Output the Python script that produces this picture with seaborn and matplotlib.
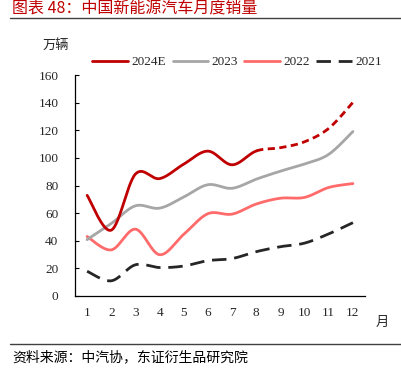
import numpy as np
import pandas as pd
import matplotlib
matplotlib.use("Agg")
import matplotlib.pyplot as plt
import seaborn as sns

months = list(range(1, 13))
sales_2024e = [72.9, 47.7, 88.3, 85.0, 95.5, 104.9, 95.0, 105.0, 107.4, 111.7, 121.4, 140.2]
sales_2023 = [40.8, 52.5, 65.3, 63.6, 71.7, 80.6, 78.0, 84.6, 90.4, 95.6, 102.6, 119.1]
sales_2022 = [43.1, 33.4, 48.4, 29.9, 44.7, 59.6, 59.3, 66.6, 70.8, 71.4, 78.6, 81.4]
sales_2021 = [17.9, 11.0, 22.6, 20.6, 21.7, 25.6, 27.1, 32.1, 35.7, 38.3, 45.0, 53.1]
forecast_from = 8

sns.set_style("white")
plt.rcParams['font.family'] = ['Liberation Serif', 'Noto Sans CJK SC']
cjk = ['Noto Sans CJK SC', 'DejaVu Sans']


# excel style smoothed line (catmull-rom bezier), only used for drawing
def smooth(x, y, n=30):
    x = np.asarray(x, float)
    y = np.asarray(y, float)
    px = np.r_[x[0], x, x[-1]]
    py = np.r_[y[0], y, y[-1]]
    xs, ys = [], []
    for i in range(1, len(px) - 2):
        t = np.linspace(0, 1, n, endpoint=False)
        p0, p1, p2, p3 = (np.array([px[j], py[j]]) for j in range(i - 1, i + 3))
        c1 = p1 + (p2 - p0) / 6
        c2 = p2 - (p3 - p1) / 6
        b = ((1 - t) ** 3)[:, None] * p1 + (3 * (1 - t) ** 2 * t)[:, None] * c1 \
            + (3 * (1 - t) * t ** 2)[:, None] * c2 + (t ** 3)[:, None] * p2
        xs.append(b[:, 0])
        ys.append(b[:, 1])
    xs.append([x[-1]])
    ys.append([y[-1]])
    return pd.DataFrame({'x': np.concatenate(xs), 'y': np.concatenate(ys)})


fig = plt.figure(figsize=(4.02, 3.79), dpi=100)
ax = fig.add_axes([0.1866, 0.219, 0.7214, 0.583])

lw = 2.0
d21 = smooth(months, sales_2021)
sns.lineplot(data=d21, x='x', y='y', sort=False, ax=ax, color='#262626', lw=lw,
             dashes=False, label='2021')
ax.lines[-1].set_dashes([5.2, 2.8])
d22 = smooth(months, sales_2022)
sns.lineplot(data=d22, x='x', y='y', sort=False, ax=ax, color='#FF6B6B', lw=lw, label='2022')
d23 = smooth(months, sales_2023)
sns.lineplot(data=d23, x='x', y='y', sort=False, ax=ax, color='#A6A6A6', lw=lw, label='2023')
d24 = smooth(months, sales_2024e)
sns.lineplot(data=d24[d24.x <= forecast_from], x='x', y='y', sort=False, ax=ax,
             color='#C00000', lw=lw, label='2024E')
sns.lineplot(data=d24[d24.x >= forecast_from], x='x', y='y', sort=False, ax=ax,
             color='#C00000', lw=lw)
ax.lines[-1].set_dashes([2.6, 1.6])

ax.set_xlim(0.5, 12.5)
ax.set_ylim(0, 160)
ax.set_xticks(months)
ax.set_xticklabels([str(m) for m in months])
ax.set_xticks(np.arange(0.5, 13, 1), minor=True)
ax.tick_params(axis='x', which='major', length=0, pad=8, labelsize=9.5)
ax.tick_params(axis='x', which='minor', direction='in', length=3, width=0.8, color='black')
ax.set_yticks(range(0, 161, 20))
ax.tick_params(axis='y', direction='in', length=3, width=0.8, color='black', pad=12,
               labelsize=9.5, left=True)
ax.set_xlabel('')
ax.set_ylabel('')
for s in ['top', 'right']:
    ax.spines[s].set_visible(False)
for s in ['left', 'bottom']:
    ax.spines[s].set_color('black')
    ax.spines[s].set_linewidth(0.9)

h, l = ax.get_legend_handles_labels()
order = [l.index(k) for k in ['2024E', '2023', '2022', '2021']]
ax.get_legend().remove()
fig.legend([h[i] for i in order], [l[i] for i in order], loc='center',
           bbox_to_anchor=(0.59, 0.836), ncol=4, frameon=False, fontsize=9.5,
           handlelength=2.7, handletextpad=0.25, columnspacing=0.5)

fig.text(0.105, 0.88, '万辆', family=cjk, fontsize=9.5, ha='left', va='center')
fig.text(0.935, 0.148, '月', family=cjk, fontsize=9.5, ha='left', va='center')

fig.text(0.03, 0.999, '图表 48：中国新能源汽车月度销量', family=cjk, fontsize=11.5,
         color='#C00000', fontweight='medium', ha='left', va='top')
fig.add_artist(plt.Line2D([0.025, 1.0], [0.953, 0.953], color='#404040', lw=1.0))
fig.add_artist(plt.Line2D([0.025, 1.0], [0.092, 0.092], color='#404040', lw=1.0))
fig.text(0.03, 0.058, '资料来源：中汽协，东证衍生品研究院', family=cjk, fontsize=10,
         color='black', ha='left', va='center')

fig.savefig('out.png', dpi=100)
